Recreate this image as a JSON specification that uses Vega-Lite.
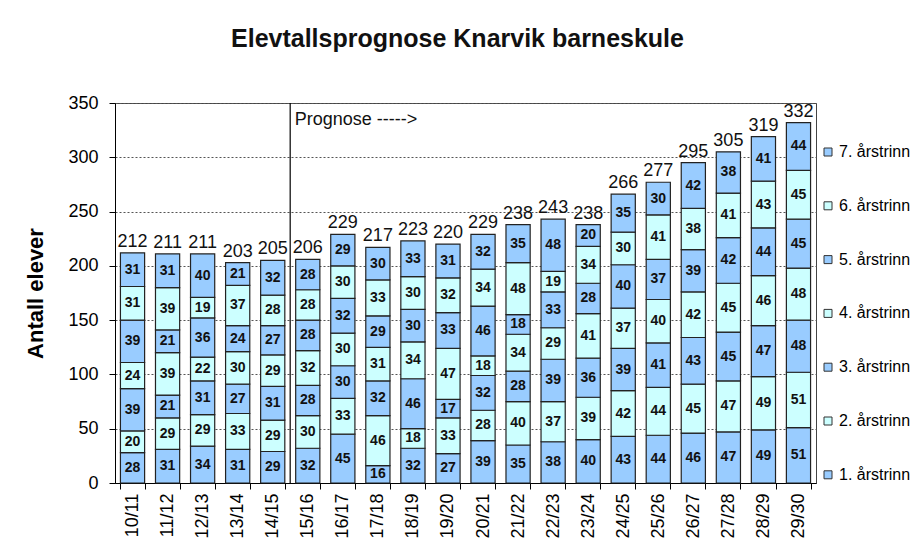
{
  "$schema": "https://vega.github.io/schema/vega-lite/v6.json",
  "width": 701,
  "height": 380,
  "autosize": {"type": "none"},
  "padding": {"left": 115, "top": 103, "right": 95, "bottom": 76},
  "background": "white",
  "config": {
    "font": "Liberation Sans",
    "view": {"stroke": "#444", "strokeWidth": 1},
    "axis": {"labelColor": "#000", "titleColor": "#000", "domainColor": "#000", "tickColor": "#000"}
  },
  "title": {
    "text": "Elevtallsprognose Knarvik barneskule",
    "fontSize": 25, "fontWeight": "bold", "anchor": "middle", "offset": 42, "dx": -8, "color": "#111"
  },
  "data": {"values": [
    {"aar":"10/11","trinn":"1. årstrinn","antall":28},{"aar":"10/11","trinn":"2. årstrinn","antall":20},{"aar":"10/11","trinn":"3. årstrinn","antall":39},{"aar":"10/11","trinn":"4. årstrinn","antall":24},{"aar":"10/11","trinn":"5. årstrinn","antall":39},{"aar":"10/11","trinn":"6. årstrinn","antall":31},{"aar":"10/11","trinn":"7. årstrinn","antall":31},
    {"aar":"11/12","trinn":"1. årstrinn","antall":31},{"aar":"11/12","trinn":"2. årstrinn","antall":29},{"aar":"11/12","trinn":"3. årstrinn","antall":21},{"aar":"11/12","trinn":"4. årstrinn","antall":39},{"aar":"11/12","trinn":"5. årstrinn","antall":21},{"aar":"11/12","trinn":"6. årstrinn","antall":39},{"aar":"11/12","trinn":"7. årstrinn","antall":31},
    {"aar":"12/13","trinn":"1. årstrinn","antall":34},{"aar":"12/13","trinn":"2. årstrinn","antall":29},{"aar":"12/13","trinn":"3. årstrinn","antall":31},{"aar":"12/13","trinn":"4. årstrinn","antall":22},{"aar":"12/13","trinn":"5. årstrinn","antall":36},{"aar":"12/13","trinn":"6. årstrinn","antall":19},{"aar":"12/13","trinn":"7. årstrinn","antall":40},
    {"aar":"13/14","trinn":"1. årstrinn","antall":31},{"aar":"13/14","trinn":"2. årstrinn","antall":33},{"aar":"13/14","trinn":"3. årstrinn","antall":27},{"aar":"13/14","trinn":"4. årstrinn","antall":30},{"aar":"13/14","trinn":"5. årstrinn","antall":24},{"aar":"13/14","trinn":"6. årstrinn","antall":37},{"aar":"13/14","trinn":"7. årstrinn","antall":21},
    {"aar":"14/15","trinn":"1. årstrinn","antall":29},{"aar":"14/15","trinn":"2. årstrinn","antall":29},{"aar":"14/15","trinn":"3. årstrinn","antall":31},{"aar":"14/15","trinn":"4. årstrinn","antall":29},{"aar":"14/15","trinn":"5. årstrinn","antall":27},{"aar":"14/15","trinn":"6. årstrinn","antall":28},{"aar":"14/15","trinn":"7. årstrinn","antall":32},
    {"aar":"15/16","trinn":"1. årstrinn","antall":32},{"aar":"15/16","trinn":"2. årstrinn","antall":30},{"aar":"15/16","trinn":"3. årstrinn","antall":28},{"aar":"15/16","trinn":"4. årstrinn","antall":32},{"aar":"15/16","trinn":"5. årstrinn","antall":28},{"aar":"15/16","trinn":"6. årstrinn","antall":28},{"aar":"15/16","trinn":"7. årstrinn","antall":28},
    {"aar":"16/17","trinn":"1. årstrinn","antall":45},{"aar":"16/17","trinn":"2. årstrinn","antall":33},{"aar":"16/17","trinn":"3. årstrinn","antall":30},{"aar":"16/17","trinn":"4. årstrinn","antall":30},{"aar":"16/17","trinn":"5. årstrinn","antall":32},{"aar":"16/17","trinn":"6. årstrinn","antall":30},{"aar":"16/17","trinn":"7. årstrinn","antall":29},
    {"aar":"17/18","trinn":"1. årstrinn","antall":16},{"aar":"17/18","trinn":"2. årstrinn","antall":46},{"aar":"17/18","trinn":"3. årstrinn","antall":32},{"aar":"17/18","trinn":"4. årstrinn","antall":31},{"aar":"17/18","trinn":"5. årstrinn","antall":29},{"aar":"17/18","trinn":"6. årstrinn","antall":33},{"aar":"17/18","trinn":"7. årstrinn","antall":30},
    {"aar":"18/19","trinn":"1. årstrinn","antall":32},{"aar":"18/19","trinn":"2. årstrinn","antall":18},{"aar":"18/19","trinn":"3. årstrinn","antall":46},{"aar":"18/19","trinn":"4. årstrinn","antall":34},{"aar":"18/19","trinn":"5. årstrinn","antall":30},{"aar":"18/19","trinn":"6. årstrinn","antall":30},{"aar":"18/19","trinn":"7. årstrinn","antall":33},
    {"aar":"19/20","trinn":"1. årstrinn","antall":27},{"aar":"19/20","trinn":"2. årstrinn","antall":33},{"aar":"19/20","trinn":"3. årstrinn","antall":17},{"aar":"19/20","trinn":"4. årstrinn","antall":47},{"aar":"19/20","trinn":"5. årstrinn","antall":33},{"aar":"19/20","trinn":"6. årstrinn","antall":32},{"aar":"19/20","trinn":"7. årstrinn","antall":31},
    {"aar":"20/21","trinn":"1. årstrinn","antall":39},{"aar":"20/21","trinn":"2. årstrinn","antall":28},{"aar":"20/21","trinn":"3. årstrinn","antall":32},{"aar":"20/21","trinn":"4. årstrinn","antall":18},{"aar":"20/21","trinn":"5. årstrinn","antall":46},{"aar":"20/21","trinn":"6. årstrinn","antall":34},{"aar":"20/21","trinn":"7. årstrinn","antall":32},
    {"aar":"21/22","trinn":"1. årstrinn","antall":35},{"aar":"21/22","trinn":"2. årstrinn","antall":40},{"aar":"21/22","trinn":"3. årstrinn","antall":28},{"aar":"21/22","trinn":"4. årstrinn","antall":34},{"aar":"21/22","trinn":"5. årstrinn","antall":18},{"aar":"21/22","trinn":"6. årstrinn","antall":48},{"aar":"21/22","trinn":"7. årstrinn","antall":35},
    {"aar":"22/23","trinn":"1. årstrinn","antall":38},{"aar":"22/23","trinn":"2. årstrinn","antall":37},{"aar":"22/23","trinn":"3. årstrinn","antall":39},{"aar":"22/23","trinn":"4. årstrinn","antall":29},{"aar":"22/23","trinn":"5. årstrinn","antall":33},{"aar":"22/23","trinn":"6. årstrinn","antall":19},{"aar":"22/23","trinn":"7. årstrinn","antall":48},
    {"aar":"23/24","trinn":"1. årstrinn","antall":40},{"aar":"23/24","trinn":"2. årstrinn","antall":39},{"aar":"23/24","trinn":"3. årstrinn","antall":36},{"aar":"23/24","trinn":"4. årstrinn","antall":41},{"aar":"23/24","trinn":"5. årstrinn","antall":28},{"aar":"23/24","trinn":"6. årstrinn","antall":34},{"aar":"23/24","trinn":"7. årstrinn","antall":20},
    {"aar":"24/25","trinn":"1. årstrinn","antall":43},{"aar":"24/25","trinn":"2. årstrinn","antall":42},{"aar":"24/25","trinn":"3. årstrinn","antall":39},{"aar":"24/25","trinn":"4. årstrinn","antall":37},{"aar":"24/25","trinn":"5. årstrinn","antall":40},{"aar":"24/25","trinn":"6. årstrinn","antall":30},{"aar":"24/25","trinn":"7. årstrinn","antall":35},
    {"aar":"25/26","trinn":"1. årstrinn","antall":44},{"aar":"25/26","trinn":"2. årstrinn","antall":44},{"aar":"25/26","trinn":"3. årstrinn","antall":41},{"aar":"25/26","trinn":"4. årstrinn","antall":40},{"aar":"25/26","trinn":"5. årstrinn","antall":37},{"aar":"25/26","trinn":"6. årstrinn","antall":41},{"aar":"25/26","trinn":"7. årstrinn","antall":30},
    {"aar":"26/27","trinn":"1. årstrinn","antall":46},{"aar":"26/27","trinn":"2. årstrinn","antall":45},{"aar":"26/27","trinn":"3. årstrinn","antall":43},{"aar":"26/27","trinn":"4. årstrinn","antall":42},{"aar":"26/27","trinn":"5. årstrinn","antall":39},{"aar":"26/27","trinn":"6. årstrinn","antall":38},{"aar":"26/27","trinn":"7. årstrinn","antall":42},
    {"aar":"27/28","trinn":"1. årstrinn","antall":47},{"aar":"27/28","trinn":"2. årstrinn","antall":47},{"aar":"27/28","trinn":"3. årstrinn","antall":45},{"aar":"27/28","trinn":"4. årstrinn","antall":45},{"aar":"27/28","trinn":"5. årstrinn","antall":42},{"aar":"27/28","trinn":"6. årstrinn","antall":41},{"aar":"27/28","trinn":"7. årstrinn","antall":38},
    {"aar":"28/29","trinn":"1. årstrinn","antall":49},{"aar":"28/29","trinn":"2. årstrinn","antall":49},{"aar":"28/29","trinn":"3. årstrinn","antall":47},{"aar":"28/29","trinn":"4. årstrinn","antall":46},{"aar":"28/29","trinn":"5. årstrinn","antall":44},{"aar":"28/29","trinn":"6. årstrinn","antall":43},{"aar":"28/29","trinn":"7. årstrinn","antall":41},
    {"aar":"29/30","trinn":"1. årstrinn","antall":51},{"aar":"29/30","trinn":"2. årstrinn","antall":51},{"aar":"29/30","trinn":"3. årstrinn","antall":48},{"aar":"29/30","trinn":"4. årstrinn","antall":48},{"aar":"29/30","trinn":"5. årstrinn","antall":45},{"aar":"29/30","trinn":"6. årstrinn","antall":45},{"aar":"29/30","trinn":"7. årstrinn","antall":44}
  ]},
  "encoding": {
    "x": {
      "field": "aar", "type": "ordinal", "title": null,
      "scale": {"paddingInner": 0.31, "paddingOuter": 0.155},
      "axis": {"labelAngle": -90, "labelFontSize": 18, "labelPadding": 4, "tickSize": 6, "tickBand": "extent", "labelBaseline": "middle", "labelAlign": "right"}
    }
  },
  "layer": [
    {
      "mark": {"type": "bar", "stroke": "#222", "strokeWidth": 1.2},
      "encoding": {
        "y": {
          "aggregate": "sum", "field": "antall", "type": "quantitative", "title": "Antall elever",
          "scale": {"domain": [0, 350]},
          "axis": {"values": [0, 50, 100, 150, 200, 250, 300, 350], "labelFontSize": 18, "titleFontSize": 22, "titleFontWeight": "bold", "titlePadding": 20, "tickSize": 6, "labelPadding": 11, "gridColor": "#555", "gridDash": [2, 2], "gridWidth": 1}
        },
        "color": {
          "field": "trinn", "type": "nominal", "sort": "descending",
          "scale": {"range": ["#99CCFF", "#CCFFFF", "#99CCFF", "#CCFFFF", "#99CCFF", "#CCFFFF", "#99CCFF"]},
          "legend": {"title": null, "orient": "none", "legendX": 705, "legendY": 41, "symbolType": "square", "symbolSize": 64, "symbolStrokeColor": "#333", "symbolStrokeWidth": 1, "labelFontSize": 16, "labelColor": "#000", "rowPadding": 37.8, "labelOffset": 3, "labelLimit": 200}
        },
        "order": {"field": "trinn", "sort": "ascending"}
      }
    },
    {
      "transform": [
        {"stack": "antall", "groupby": ["aar"], "sort": [{"field": "trinn", "order": "ascending"}], "as": ["y0", "y1"]},
        {"calculate": "(datum.y0 + datum.y1) / 2", "as": "midt"}
      ],
      "mark": {"type": "text", "fontSize": 14, "fontWeight": "bold", "color": "#111", "baseline": "middle"},
      "encoding": {
        "y": {"field": "midt", "type": "quantitative", "title": "Antall elever"},
        "text": {"field": "antall", "type": "quantitative"}
      }
    },
    {
      "transform": [{"aggregate": [{"op": "sum", "field": "antall", "as": "total"}], "groupby": ["aar"]}],
      "mark": {"type": "text", "fontSize": 18, "color": "#111", "baseline": "alphabetic", "dy": -6},
      "encoding": {
        "y": {"field": "total", "type": "quantitative", "title": "Antall elever"},
        "text": {"field": "total", "type": "quantitative"}
      }
    },
    {
      "data": {"values": [{"aar": "15/16"}]},
      "mark": {"type": "rule", "color": "#000", "strokeWidth": 1.2, "xOffset": -5.5},
      "encoding": {"x": {"field": "aar", "type": "ordinal", "bandPosition": 0}}
    },
    {
      "data": {"values": [{"aar": "15/16", "tekst": "Prognose ----->"}]},
      "mark": {"type": "text", "fontSize": 18, "align": "left", "baseline": "middle", "color": "#111", "xOffset": -1},
      "encoding": {
        "x": {"field": "aar", "type": "ordinal", "bandPosition": 0},
        "y": {"datum": 334, "type": "quantitative"},
        "text": {"field": "tekst"}
      }
    }
  ]
}
